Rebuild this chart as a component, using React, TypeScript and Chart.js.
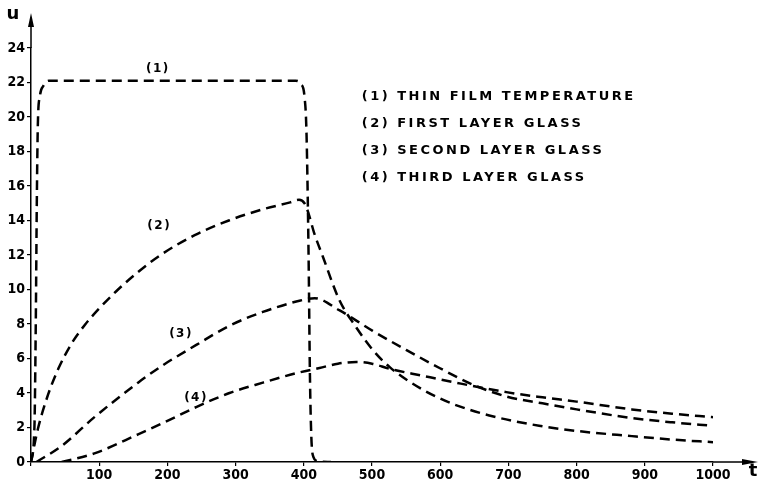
import React, { useEffect, useRef } from "react";
import { Chart, registerables } from "chart.js";

Chart.register(...registerables);

// ---- data (t = time, u = temperature) ----
const curve1T = [0, 5, 7, 8.5, 10, 13, 18, 26, 200, 388, 396, 401, 404, 407, 409, 411, 414, 420, 440];
const curve1U = [0, 2, 8, 15, 19.5, 21.2, 21.8, 22.1, 22.1, 22.1, 21.9, 21.2, 19, 12, 5, 1.5, 0.3, 0.05, 0];

const curve2T = [0, 10, 25, 40, 60, 80, 100, 125, 155, 190, 240, 290, 340, 380, 393, 401, 407, 415, 428, 452, 477, 501, 526, 574, 599, 623, 672, 745, 800, 881, 940, 1000];
const curve2U = [0, 1.9, 3.9, 5.4, 6.9, 8.0, 8.9, 9.9, 10.95, 12.0, 13.15, 14.0, 14.65, 15.05, 15.2, 15.0, 14.4, 13.3, 11.9, 9.4, 7.8, 6.5, 5.5, 4.2, 3.7, 3.3, 2.7, 2.1, 1.8, 1.5, 1.3, 1.15];

const curve3T = [8, 44, 93, 157, 193, 243, 291, 340, 389, 416, 452, 501, 550, 599, 647, 697, 750, 800, 881, 940, 1000];
const curve3U = [0, 0.9, 2.6, 4.6, 5.6, 6.8, 7.9, 8.7, 9.3, 9.5, 8.8, 7.6, 6.5, 5.45, 4.5, 3.8, 3.4, 3.05, 2.55, 2.3, 2.1];

const curve4T = [45, 93, 157, 193, 243, 291, 340, 389, 423, 450, 477, 500, 526, 574, 623, 697, 750, 800, 881, 940, 1000];
const curve4U = [0, 0.5, 1.6, 2.25, 3.2, 4.0, 4.6, 5.15, 5.45, 5.7, 5.8, 5.7, 5.4, 5.0, 4.6, 4.05, 3.75, 3.5, 3.05, 2.8, 2.6];

const xTicks = [0, 100, 200, 300, 400, 500, 600, 700, 800, 900, 1000];
const yTicks = [0, 2, 4, 6, 8, 10, 12, 14, 16, 18, 20, 22, 24];

const curveTags = ["(1)", "(2)", "(3)", "(4)"];
const curveTagT = [186, 188, 220, 242];
const curveTagU = [22.8, 13.7, 7.4, 3.7];

const legendLabels = [
  "(1) THIN FILM TEMPERATURE",
  "(2) FIRST LAYER GLASS",
  "(3) SECOND LAYER GLASS",
  "(4) THIRD LAYER GLASS",
];
const legendT = 485;
const legendU = [21.2, 19.62, 18.04, 16.46];

const axisNameX = "t";
const axisNameY = "u";

const FONT = "'DejaVu Sans', 'Liberation Sans', sans-serif";
const TICK_FONT = "'DejaVu Sans Condensed', 'DejaVu Sans', sans-serif";

function pts(t: number[], u: number[]) {
  return t.map((x, i) => ({ x, y: u[i] }));
}

const decorPlugin = {
  id: "decor",
  afterDraw(chart: any) {
    const ctx = chart.ctx as CanvasRenderingContext2D;
    const xs = chart.scales.x;
    const ys = chart.scales.y;
    const x0 = xs.getPixelForValue(0);
    const y0 = ys.getPixelForValue(0);
    const yTop = ys.getPixelForValue(24);
    const xEnd = xs.getPixelForValue(1000);
    ctx.save();
    ctx.strokeStyle = "#000";
    ctx.fillStyle = "#000";
    ctx.lineWidth = 1.5;
    // axis extensions
    ctx.beginPath();
    ctx.moveTo(x0, yTop);
    ctx.lineTo(x0, 20);
    ctx.moveTo(xEnd, y0);
    ctx.lineTo(750, y0);
    ctx.stroke();
    // arrow heads
    ctx.beginPath();
    ctx.moveTo(x0, 13);
    ctx.lineTo(x0 - 3, 27);
    ctx.lineTo(x0 + 3, 27);
    ctx.closePath();
    ctx.fill();
    ctx.beginPath();
    ctx.moveTo(758, y0);
    ctx.lineTo(742, y0 - 3);
    ctx.lineTo(742, y0 + 3);
    ctx.closePath();
    ctx.fill();
    // axis names
    ctx.font = `bold 18px ${FONT}`;
    ctx.textAlign = "center";
    ctx.textBaseline = "middle";
    ctx.fillText(axisNameY, 13, 14);
    ctx.fillText(axisNameX, 753, 471);
    // curve tags
    ctx.font = `bold 12px ${FONT}`;
    (ctx as any).letterSpacing = "1.5px";
    curveTags.forEach((s, i) => {
      ctx.fillText(s, xs.getPixelForValue(curveTagT[i]), ys.getPixelForValue(curveTagU[i]));
    });
    // legend text
    ctx.textAlign = "left";
    ctx.font = `bold 13px ${FONT}`;
    (ctx as any).letterSpacing = "2.5px";
    legendLabels.forEach((s, i) => {
      ctx.fillText(s, xs.getPixelForValue(legendT), ys.getPixelForValue(legendU[i]));
    });
    ctx.restore();
  },
};

export default function App() {
  const ref = useRef<HTMLCanvasElement | null>(null);
  useEffect(() => {
    if (!ref.current) return;
    const ds = (t: number[], u: number[]) => ({
      data: pts(t, u),
      borderColor: "#000",
      borderWidth: 2.5,
      borderDash: [10, 6],
      pointRadius: 0,
      fill: false,
      cubicInterpolationMode: "monotone" as const,
    });
    const chart = new Chart(ref.current, {
      type: "line",
      data: {
        datasets: [
          ds(curve1T, curve1U),
          ds(curve2T, curve2U),
          ds(curve3T, curve3U),
          ds(curve4T, curve4U),
        ],
      },
      options: {
        animation: false,
        responsive: false,
        maintainAspectRatio: false,
        layout: { padding: { top: 48, right: 47, left: 0, bottom: 0 } },
        plugins: { legend: { display: false }, tooltip: { enabled: false } },
        scales: {
          x: {
            type: "linear",
            min: 0,
            max: 1000,
            afterBuildTicks: (s: any) => {
              s.ticks = xTicks.map((v) => ({ value: v }));
            },
            afterFit: (s: any) => {
              s.height = 26;
            },
            grid: { drawOnChartArea: false, drawTicks: true, tickLength: 4, color: "#000", lineWidth: 1.2 },
            border: { display: true, color: "#000", width: 1.5 },
            ticks: {
              color: "#000",
              font: { family: TICK_FONT, size: 14, weight: "bold" },
              padding: 1,
              maxRotation: 0,
              autoSkip: false,
              callback: (v: any) => (v === 0 ? "" : String(v)),
            },
          },
          y: {
            type: "linear",
            min: 0,
            max: 24,
            afterBuildTicks: (s: any) => {
              s.ticks = yTicks.map((v) => ({ value: v }));
            },
            afterFit: (s: any) => {
              s.width = 31;
            },
            grid: { drawOnChartArea: false, drawTicks: true, tickLength: 4, color: "#000", lineWidth: 1.2 },
            border: { display: true, color: "#000", width: 1.5 },
            ticks: {
              color: "#000",
              font: { family: TICK_FONT, size: 14, weight: "bold" },
              padding: 2,
              autoSkip: false,
              callback: (v: any) => String(v),
            },
          },
        },
      },
      plugins: [decorPlugin],
    } as any);
    return () => chart.destroy();
  }, []);
  return (
    <div style={{ position: "fixed", left: 0, top: 0, width: 760, height: 488, background: "#fff" }}>
      <canvas ref={ref} width={760} height={488} style={{ display: "block", width: 760, height: 488 }} />
    </div>
  );
}
